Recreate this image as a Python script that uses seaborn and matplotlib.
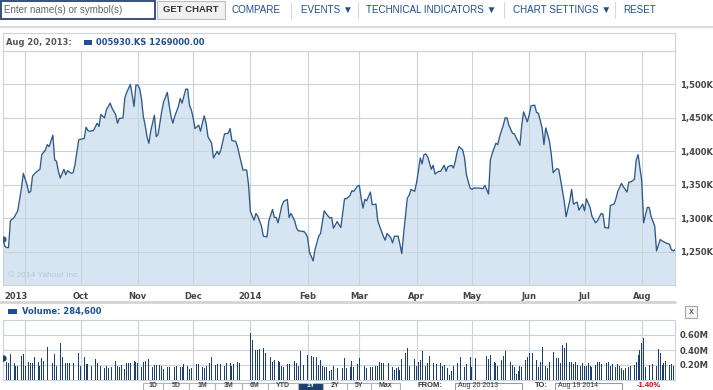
import matplotlib
matplotlib.use("Agg")
import matplotlib.pyplot as plt
from matplotlib.patches import Rectangle
from matplotlib.lines import Line2D
from matplotlib.transforms import ScaledTranslation
import seaborn as sns
import pandas as pd

# ---- data ----
start = pd.Timestamp("2013-08-20")

# days after Aug 20 2013, closing price in thousands of KRW
price_days = [
    0, 1, 2, 3, 4, 6, 7, 8, 10, 11, 13, 14, 15, 16, 18, 20, 21, 23, 24, 25,
    27, 28, 29, 30, 31, 33, 34, 35, 37, 38, 39, 41, 42, 44, 45, 46, 47, 49, 51, 52,
    53, 55, 56, 58, 59, 61, 62, 63, 65, 66, 67, 69, 70, 71, 72, 73,
    74, 75, 76, 77, 78, 79, 80, 82, 83, 84, 86, 87, 89, 90, 91, 92, 93, 95, 96, 97,
    99, 100, 101, 102, 103, 104, 106, 107, 108, 109, 110, 111, 113, 114, 116, 117,
    118, 120, 122, 123, 124, 126, 127, 128, 130, 132, 133, 134, 136, 137, 138, 140,
    141, 143, 144, 146, 147,
    148, 149, 151, 152, 154, 155, 156, 158, 159, 160, 163, 164, 165, 166, 168, 169,
    171, 172, 174, 175, 177, 178, 179, 181, 182, 183, 185, 186, 188, 189, 190, 192,
    193, 194, 195, 196, 197, 199, 200, 202, 203, 204, 206, 207, 208, 210, 211, 212,
    214, 215, 216, 217, 219, 220,
    221, 223, 224, 225, 226, 227, 228, 229, 230, 232, 233, 234, 236, 237, 239, 240,
    241, 243, 244, 245, 246, 247, 249, 250, 251, 253, 254, 255, 257, 258, 260, 261,
    263, 264, 265, 267, 268, 269, 271, 272, 273, 274, 276, 277, 278, 280, 281, 282,
    284, 285, 286, 288, 289, 290, 292, 293,
    294, 295, 296, 297, 298, 300, 301, 302, 304, 305, 307, 308, 309, 311, 312, 314,
    315, 316, 318, 319, 321, 322, 324, 325, 326, 328, 329, 331, 332, 333, 335, 336,
    338, 339, 340, 342, 343, 344, 346, 347, 349, 350, 351, 353, 354, 356, 357, 359,
    361, 362, 363, 364,
]
price_k = [
    1269, 1258, 1256, 1256, 1296, 1301, 1306, 1311, 1345, 1367, 1350, 1338, 1340, 1363, 1369, 1373, 1395, 1402, 1410, 1407,
    1424, 1387, 1385, 1370, 1360, 1373, 1365, 1371, 1367, 1368, 1380, 1417, 1418, 1419, 1436, 1431, 1430, 1431, 1442, 1437,
    1455, 1450, 1462, 1472, 1465, 1455, 1442, 1449, 1450, 1480, 1488, 1500, 1484, 1467, 1499, 1499,
    1494, 1479, 1452, 1439, 1422, 1412, 1430, 1454, 1422, 1425, 1460, 1474, 1488, 1469, 1452, 1442, 1452, 1467, 1479, 1472,
    1493, 1493, 1469, 1462, 1450, 1434, 1439, 1430, 1442, 1453, 1442, 1422, 1412, 1390, 1400, 1395,
    1402, 1426, 1427, 1434, 1416, 1415, 1407, 1395, 1372, 1372, 1350, 1310, 1297, 1307, 1303, 1288,
    1273, 1272, 1296, 1313, 1301,
    1301, 1293, 1318, 1325, 1328, 1301, 1307, 1296, 1285, 1281, 1280, 1277, 1271, 1249, 1236, 1253,
    1273, 1277, 1311, 1307, 1300, 1301, 1285, 1295, 1290, 1286, 1329, 1329, 1334, 1341, 1340, 1348,
    1349, 1330, 1315, 1328, 1326, 1339, 1320, 1321, 1296, 1288, 1273, 1267, 1277, 1271, 1263, 1273,
    1273, 1261, 1247, 1276, 1330, 1334,
    1343, 1340, 1353, 1370, 1390, 1381, 1395, 1396, 1392, 1373, 1379, 1366, 1370, 1370, 1379, 1370,
    1377, 1379, 1375, 1385, 1399, 1407, 1402, 1390, 1365, 1345, 1343, 1345, 1345, 1345, 1344, 1349,
    1336, 1387, 1397, 1412, 1410, 1422, 1439, 1450, 1450, 1439, 1427, 1426, 1420, 1409, 1439, 1459,
    1444, 1454, 1468, 1469, 1458, 1457, 1435, 1410,
    1435, 1425, 1415, 1395, 1368, 1374, 1373, 1358, 1325, 1302, 1326, 1343, 1321, 1324, 1312, 1321,
    1311, 1329, 1316, 1303, 1293, 1296, 1307, 1306, 1286, 1285, 1319, 1321, 1329, 1340, 1352, 1347,
    1339, 1354, 1354, 1358, 1387, 1395, 1355, 1293, 1316, 1316, 1303, 1288, 1251, 1268, 1266, 1263,
    1261, 1253, 1251, 1253,
]

# days after Aug 20 2013, volume in thousands of shares
vol_days = [
    0, 2, 3, 4, 6, 7, 8, 10, 11, 12, 14, 15, 16, 17, 19, 20, 21, 22, 24, 26,
    27, 28, 29, 31, 32, 34, 35, 36, 38, 39, 41, 42, 44, 45, 46, 48, 50, 51, 52, 53,
    55, 56, 57, 59, 61, 62, 63, 64, 66, 67, 68, 69, 71, 72, 73, 75, 76, 77, 79, 81,
    82, 83, 85, 86, 87, 89, 90, 91, 93, 94, 96, 97, 98, 100, 101, 102, 104, 105, 106, 108,
    109, 110, 112, 113, 115, 116, 117, 118, 120, 121, 123, 124, 125, 127, 128, 130, 134, 135, 137, 138,
    139, 141, 142, 143, 145, 146, 147, 149, 150, 151, 152, 154, 155, 156, 158, 159, 160, 161, 163, 165,
    167, 168, 170, 171, 172, 173, 174, 175, 177, 178, 179, 181, 182, 184, 185, 186, 188, 189, 190, 192,
    193,
    195, 196, 197, 199, 200, 202, 203, 204, 205, 206, 208, 209, 211, 212, 213, 214, 215, 216, 218, 219,
    220, 221, 223, 224, 225, 226, 227, 229, 230, 231, 233, 234, 235, 237, 238, 239, 241, 242, 243, 244,
    246, 247, 248, 250, 251, 253, 254, 256, 260, 262, 263, 264, 266, 267, 268, 270, 271, 272, 273, 275,
    276, 277, 278, 279, 280, 281, 283, 284, 285, 286, 287, 289, 290, 291, 292, 294, 295, 296, 298, 299,
    300, 301, 302, 303, 304, 305, 307, 308, 309, 310, 311, 313, 314, 315, 316, 317, 318, 319, 321, 322,
    323, 324, 325, 327, 328, 329, 330, 332, 333, 334, 335, 336, 337, 339, 340, 342, 343, 344, 345, 346,
    347, 348, 350, 351, 352, 354, 355, 356, 357, 358, 359, 361, 362, 363, 364,
]
vol_k = [
    289, 244, 231, 347, 231, 187, 187, 320, 347, 187, 244, 222, 231, 302, 244, 187, 289, 258, 436, 244,
    231, 347, 187, 489, 302, 231, 222, 222, 222, 231, 356, 187, 311, 213, 213, 187, 276, 231, 187, 187,
    156, 187, 156, 169, 249, 187, 178, 200, 142, 222, 222, 222, 258, 244, 231, 178, 244, 258, 276, 178,
    200, 200, 200, 187, 142, 169, 178, 156, 178, 187, 169, 178, 209, 187, 142, 156, 187, 213, 209, 178,
    156, 187, 222, 302, 200, 213, 187, 209, 187, 231, 222, 187, 209, 244, 222, 342, 622, 533, 400, 400,
    409, 422, 356, 333, 311, 244, 267, 258, 244, 187, 169, 213, 213, 276, 258, 231, 187, 387, 200, 333,
    320, 311, 302, 200, 267, 187, 178, 178, 124, 133, 187, 156, 124, 156, 289, 156, 178, 258, 178, 213,
    289,
    178, 187, 156, 178, 169, 187, 187, 244, 231, 222, 178, 231, 178, 133, 156, 178, 133, 276, 356, 422,
    187, 244, 276, 187, 244, 267, 387, 187, 231, 320, 222, 222, 213, 222, 187, 200, 156, 67, 124, 187,
    222, 200, 302, 178, 213, 302, 178, 298, 289, 320, 276, 333, 244, 222, 187, 267, 320, 387, 320, 244,
    200, 178, 80, 124, 187, 178, 267, 311, 364, 142, 356, 267, 178, 244, 444, 187, 156, 244, 378, 333,
    289, 289, 231, 467, 422, 489, 244, 244, 213, 244, 200, 187, 231, 187, 187, 222, 187, 178, 200, 244,
    244, 213, 244, 222, 244, 187, 213, 178, 213, 187, 156, 133, 156, 178, 187, 200, 244, 333, 400, 498,
    564, 178, 200, 231, 213, 187, 409, 364, 200, 222, 258, 200, 213, 187, 200,
]

month_starts = ["2013-09-01", "2013-10-01", "2013-11-01", "2013-12-01", "2014-01-01", "2014-02-01",
                "2014-03-01", "2014-04-01", "2014-05-01", "2014-06-01", "2014-07-01", "2014-08-01"]
month_labels = ["2013", "Oct", "Nov", "Dec", "2014", "Feb", "Mar", "Apr", "May", "Jun", "Jul", "Aug"]
price_ticks = [1250, 1300, 1350, 1400, 1450, 1500]
vol_ticks = [0.2, 0.4, 0.6]
menu_items = ["COMPARE", "EVENTS ▼", "TECHNICAL INDICATORS ▼", "CHART SETTINGS ▼", "RESET"]
range_buttons = ["1D", "5D", "1M", "3M", "6M", "YTD", "1Y", "2Y", "5Y", "Max"]

# ---- styling ----
W, H = 713, 390
LINE = "#2d5a88"
FILL = "#d6e5f1"
BAR = "#1c3f6c"
GRID = "#c9d3dc"
BLUE = "#1d4f91"
LABEL = "#444444"


def fx(x):
    return x / W


def fy(y):
    return 1 - y / H


sns.set_theme(style="white")
plt.rcParams["font.family"] = ["DejaVu Sans"]
UI = ["Liberation Sans", "DejaVu Sans"]

price = pd.DataFrame({"date": start + pd.to_timedelta(price_days, unit="D"), "close": price_k})
vol = pd.DataFrame({"date": start + pd.to_timedelta(vol_days, unit="D"),
                    "volume": [v / 1000 for v in vol_k]})
ticks = pd.to_datetime(month_starts)
xlim = (start, start + pd.Timedelta(days=364))

fig = plt.figure(figsize=(W / 100, H / 100), dpi=100)
fig.patch.set_facecolor("white")

# ---- price panel ----
ax = fig.add_axes([fx(3), fy(285), (675 - 3) / W, (285 - 51) / H])
ax.fill_between(price["date"], price["close"], 1200, color=FILL, lw=0, zorder=1)
sns.lineplot(data=price, x="date", y="close", ax=ax, color=LINE, lw=0.95, zorder=3)
ax.plot(price["date"].iloc[0], price["close"].iloc[0], "o", ms=3.5, color=LINE, zorder=4)
ax.set_xlim(xlim)
ax.set_ylim(1200, 1550)
ax.set_xticks(ticks, labels=month_labels, fontweight="bold")
ax.set_yticks(price_ticks, labels=[f"{t:,}K" for t in price_ticks], fontweight="bold")
ax.yaxis.tick_right()
ax.tick_params(axis="both", length=0, labelsize=6, labelcolor=LABEL)
ax.tick_params(axis="x", pad=5)
ax.tick_params(axis="y", pad=3.6)
ax.set_axisbelow(False)
ax.grid(True, color=GRID, lw=0.8, zorder=2)
ax.set_xlabel("")
ax.set_ylabel("")
for s in ax.spines.values():
    s.set_color(GRID)
    s.set_linewidth(0.8)
first = ax.get_xticklabels()[0]
first.set_transform(first.get_transform() + ScaledTranslation(-0.09, 0, fig.dpi_scale_trans))
ax.text(0.008, 0.035, "© 2014 Yahoo! Inc.", transform=ax.transAxes, fontsize=6,
        color="#b9c6d2", family=UI)

# ---- volume panel ----
vax = fig.add_axes([fx(3), fy(380), (675 - 3) / W, (380 - 320) / H])
vax.bar(vol["date"], vol["volume"], width=0.5, color=BAR, lw=0, zorder=3)
vax.plot(vol["date"].iloc[0], vol["volume"].iloc[0], "o", ms=3.5, color=BAR, zorder=4)
vax.set_xlim(xlim)
vax.set_ylim(0, 0.8)
vax.set_xticks(ticks, labels=[])
vax.set_yticks(vol_ticks, labels=[f"{t:.2f}M" for t in vol_ticks], fontweight="bold")
vax.yaxis.tick_right()
vax.tick_params(axis="both", length=0, labelsize=6, labelcolor=LABEL)
vax.tick_params(axis="y", pad=3.6)
vax.grid(True, color=GRID, lw=0.8, zorder=1)
for s in vax.spines.values():
    s.set_color(GRID)
    s.set_linewidth(0.8)


# ---- page furniture ----
def box(x0, y0, x1, y1, **kw):
    fig.add_artist(Rectangle((fx(x0), fy(y1)), (x1 - x0) / W, (y1 - y0) / H,
                             transform=fig.transFigure, **kw))


def hline(y, x0, x1, **kw):
    fig.add_artist(Line2D([fx(x0), fx(x1)], [fy(y), fy(y)], transform=fig.transFigure, **kw))


# toolbar
box(1, 1, 155, 19, facecolor="white", edgecolor="#34507a", lw=1.4)
fig.text(fx(4), fy(10), "Enter name(s) or symbol(s)", fontsize=7, color="#666666",
         family=UI, va="center")
box(157, 1, 225, 19, facecolor="#f1f1f1", edgecolor="#bdbdbd", lw=0.8)
fig.text(fx(191), fy(10), "GET CHART", fontsize=6.8, color="#333333", family=UI,
         fontweight="bold", ha="center", va="center")
menu_x = [232, 301, 366, 513, 623]
for mx, item in zip(menu_x, menu_items):
    fig.text(fx(mx), fy(10), item, fontsize=7.1, color=BLUE, family=UI, va="center")
for sx in [291, 358, 504, 615]:
    fig.add_artist(Line2D([fx(sx), fx(sx)], [fy(2), fy(18)], transform=fig.transFigure,
                          color="#d8d8d8", lw=0.8))
hline(26.5, 0, 713, color="#dadada", lw=1.5)

# legend header of the price panel
box(3, 33, 675, 51, facecolor="white", edgecolor=GRID, lw=0.8)
fig.text(fx(6), fy(42.5), "Aug 20, 2013:", fontsize=6, fontweight="bold", color="#555555",
         va="center")
box(84, 40, 92, 45, facecolor=BLUE, edgecolor="none")
fig.text(fx(96), fy(42.5), "005930.KS 1269000.00", fontsize=6, fontweight="bold",
         color=BLUE, va="center")

# separator under x labels and volume header
hline(302, 0, 675, color="#d4d4d4", lw=2)
box(8, 309, 17, 314, facecolor=BLUE, edgecolor="none")
fig.text(fx(22), fy(311.5), "Volume: 284,600", fontsize=6, fontweight="bold", color=BLUE,
         va="center")
box(685, 306, 697, 318, facecolor="#f4f4f4", edgecolor="#a8a8a8", lw=0.8)
fig.text(fx(691), fy(312), "x", fontsize=6, color="#333333", ha="center", va="center")

# range buttons along the bottom edge
edges = [143, 163, 189, 215, 242, 268, 298, 323, 347, 371, 400]
for i, lab in enumerate(range_buttons):
    sel = lab == "1Y"
    box(edges[i], 382.5, edges[i + 1], 398, facecolor="#1f3f6e" if sel else "white",
        edgecolor="#b5b5b5", lw=0.8)
    fig.text(fx((edges[i] + edges[i + 1]) / 2), fy(389.3), lab, fontsize=5, family=UI,
             fontweight="bold", color="white" if sel else "#444444", ha="center", va="bottom")
fig.text(fx(418), fy(389.3), "FROM:", fontsize=5.5, family=UI, fontweight="bold",
         color="#333333", va="bottom")
box(455, 382.5, 522, 398, facecolor="white", edgecolor="#9a9a9a", lw=0.8)
fig.text(fx(458), fy(389.3), "Aug 20 2013", fontsize=5, family=UI, color="#333333", va="bottom")
fig.text(fx(535), fy(389.3), "TO:", fontsize=5.5, family=UI, fontweight="bold",
         color="#333333", va="bottom")
box(555, 382.5, 622, 398, facecolor="white", edgecolor="#9a9a9a", lw=0.8)
fig.text(fx(558), fy(389.3), "Aug 19 2014", fontsize=5, family=UI, color="#333333", va="bottom")
fig.text(fx(637), fy(389.3), "-1.40%", fontsize=5.5, family=UI, fontweight="bold",
         color="#cc0000", va="bottom")

fig.savefig("out.png", dpi=100, facecolor="white")
plt.close(fig)
